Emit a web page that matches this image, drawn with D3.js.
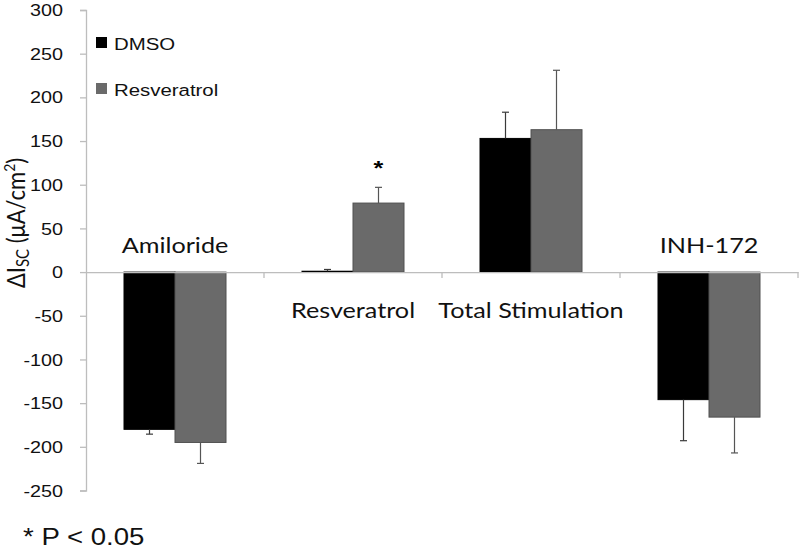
<!DOCTYPE html>
<html>
<head>
<meta charset="utf-8">
<script src="https://cdn.jsdelivr.net/npm/d3@7"></script>
<style>
  body { margin: 0; background: #fff; }
  svg { display: block; }
</style>
</head>
<body>
<svg id="chart" width="800" height="550"></svg>
<script>
const categories = ["Amiloride", "Resveratrol", "Total Stimulation", "INH-172"];
const seriesNames = ["DMSO", "Resveratrol"];
const dmsoValues = [-180, 1, 153, -146];
const dmsoErrors = [5.5, 2, 30, 47];
const resvValues = [-195, 79, 163, -166];
const resvErrors = [24, 18, 68, 41];
const yTicks = [-250, -200, -150, -100, -50, 0, 50, 100, 150, 200, 250, 300];
const significant = [false, true, false, false];

const colors = { "DMSO": "#000000", "Resveratrol": "#6a6a6a" };
const strokeColors = { "DMSO": "#000000", "Resveratrol": "#505050" };
const errColors = { "DMSO": "#3a3a3a", "Resveratrol": "#555555" };
const SX = 1.2; // horizontal stretch of text

const svg = d3.select("#chart");

const x = d3.scaleBand().domain(categories).range([86, 798]).paddingInner(0).paddingOuter(0);
const xs = d3.scaleBand().domain(seriesNames).range([0, x.bandwidth()]).paddingInner(0).paddingOuter(0.745);
const y = d3.scaleLinear().domain([-250, 300]).range([490.5, 10]);

const data = [];
categories.forEach((c, i) => {
  data.push({ cat: c, s: "DMSO", v: dmsoValues[i], e: dmsoErrors[i] });
  data.push({ cat: c, s: "Resveratrol", v: resvValues[i], e: resvErrors[i] });
});

// Y axis
const yAxis = svg.append("g").attr("transform", "translate(86,0)")
  .call(d3.axisLeft(y).tickValues(yTicks).tickSize(6).tickFormat(d => String(d)));
yAxis.select(".domain").attr("stroke", "#bdbdbd").attr("stroke-width", 1.3);
yAxis.selectAll(".tick line").attr("stroke", "#bdbdbd").attr("stroke-width", 1.3);
yAxis.selectAll(".tick text")
  .attr("x", -23 / SX).attr("dy", "0.34em")
  .attr("transform", `scale(${SX},1)`)
  .attr("fill", "#111")
  .style("font-family", "'Liberation Sans', Arial, sans-serif")
  .style("font-size", "16.5px");

// Bars
svg.append("g").selectAll("rect").data(data).join("rect")
  .attr("x", d => x(d.cat) + xs(d.s))
  .attr("width", xs.bandwidth())
  .attr("y", d => Math.min(y(d.v), y(0)))
  .attr("height", d => Math.abs(y(d.v) - y(0)))
  .attr("fill", d => colors[d.s])
  .attr("stroke", d => strokeColors[d.s])
  .attr("stroke-width", 1);

// Zero line (x axis)
const xAxis = svg.append("g").attr("transform", `translate(0,${y(0)})`)
  .call(d3.axisBottom(x).tickSize(0).tickFormat(""));
xAxis.select(".domain").attr("stroke", "#bdbdbd").attr("stroke-width", 1.3);
xAxis.selectAll(".tick").remove();
svg.append("g").selectAll("line").data(categories.map((c, i) => x(c) + x.bandwidth())).join("line")
  .attr("x1", d => d).attr("x2", d => d)
  .attr("y1", y(0)).attr("y2", y(0) + 6)
  .attr("stroke", "#bdbdbd").attr("stroke-width", 1.3);

// Error bars
const eb = svg.append("g");
data.forEach(d => {
  const cx = x(d.cat) + xs(d.s) + xs.bandwidth() / 2;
  const end = d.v >= 0 ? d.v + d.e : d.v - d.e;
  eb.append("line").attr("x1", cx).attr("x2", cx).attr("y1", y(d.v)).attr("y2", y(end))
    .attr("stroke", errColors[d.s]).attr("stroke-width", 1.2);
  eb.append("line").attr("x1", cx - 3.5).attr("x2", cx + 3.5).attr("y1", y(end)).attr("y2", y(end))
    .attr("stroke", errColors[d.s]).attr("stroke-width", 1.2);
});

// Significance star
categories.forEach((c, i) => {
  if (!significant[i]) return;
  const cx = x(c) + xs("Resveratrol") + xs.bandwidth() / 2;
  svg.append("text")
    .attr("transform", `translate(${cx},${y(resvValues[i] + resvErrors[i]) - 12}) scale(${SX},1)`)
    .attr("text-anchor", "middle")
    .style("font-family", "'Liberation Sans', Arial, sans-serif")
    .style("font-size", "21px")
    .style("font-weight", "bold")
    .text("*");
});

// Category labels
const labelPos = [
  { above: true }, { above: false }, { above: false }, { above: true }
];
categories.forEach((c, i) => {
  const cx = x(c) + x.bandwidth() / 2;
  const by = labelPos[i].above ? y(0) - 19 : y(0) + 46;
  svg.append("text")
    .attr("transform", `translate(${cx},${by}) scale(${SX},1)`)
    .attr("text-anchor", "middle")
    .attr("fill", "#111")
    .style("font-family", "Lato, 'Open Sans', sans-serif")
    .style("font-size", "21px")
    .text(c);
});

// Legend
const legend = svg.append("g");
seriesNames.forEach((s, i) => {
  const ly = 37 + i * 46;
  legend.append("rect").attr("x", 96).attr("y", ly).attr("width", 11).attr("height", 11)
    .attr("fill", colors[s]);
  legend.append("text")
    .attr("transform", `translate(114,${ly + 12.5}) scale(${SX},1)`)
    .attr("fill", "#111")
    .style("font-family", "'Liberation Sans', Arial, sans-serif")
    .style("font-size", "17px")
    .text(s);
});

// Y axis title
const yt = svg.append("text")
  .attr("transform", "translate(25,223) rotate(-90) scale(1,1.15)")
  .attr("text-anchor", "middle")
  .attr("fill", "#111")
  .style("font-family", "Lato, 'Open Sans', sans-serif")
  .style("font-size", "22px");
yt.append("tspan").text("ΔI");
yt.append("tspan").attr("baseline-shift", "-25%").style("font-size", "15px").text("SC");
yt.append("tspan").text(" (μA/cm");
yt.append("tspan").attr("baseline-shift", "super").style("font-size", "14px").text("2");
yt.append("tspan").text(")");

// Footnote
svg.append("text")
  .attr("transform", `translate(23,545) scale(${SX},1)`)
  .attr("fill", "#111")
  .style("font-family", "'Liberation Sans', Arial, sans-serif")
  .style("font-size", "23px")
  .text("* P < 0.05");
</script>
</body>
</html>
